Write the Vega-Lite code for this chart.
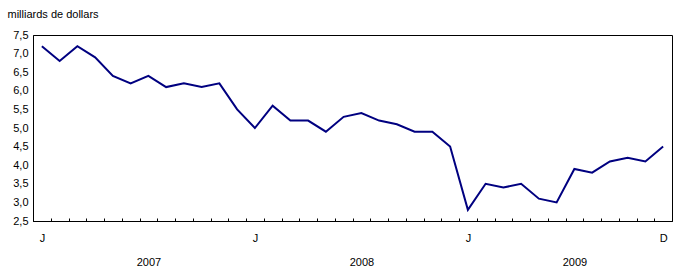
{
  "$schema": "https://vega.github.io/schema/vega-lite/v6.json",
  "width": 639,
  "height": 186,
  "autosize": {"type": "none"},
  "padding": {"left": 33, "top": 35, "right": 5, "bottom": 57},
  "background": "white",
  "config": {
    "font": "Liberation Sans",
    "view": {"stroke": "black", "strokeWidth": 1},
    "axis": {"labelFont": "Liberation Sans", "labelFontSize": 11, "labelColor": "black", "titleFont": "Liberation Sans", "titleColor": "black", "domainColor": "black", "tickColor": "black", "grid": false}
  },
  "data": {"values": [
    {"mois": "2007-01", "valeur": 7.2},
    {"mois": "2007-02", "valeur": 6.8},
    {"mois": "2007-03", "valeur": 7.2},
    {"mois": "2007-04", "valeur": 6.9},
    {"mois": "2007-05", "valeur": 6.4},
    {"mois": "2007-06", "valeur": 6.2},
    {"mois": "2007-07", "valeur": 6.4},
    {"mois": "2007-08", "valeur": 6.1},
    {"mois": "2007-09", "valeur": 6.2},
    {"mois": "2007-10", "valeur": 6.1},
    {"mois": "2007-11", "valeur": 6.2},
    {"mois": "2007-12", "valeur": 5.5},
    {"mois": "2008-01", "valeur": 5.0},
    {"mois": "2008-02", "valeur": 5.6},
    {"mois": "2008-03", "valeur": 5.2},
    {"mois": "2008-04", "valeur": 5.2},
    {"mois": "2008-05", "valeur": 4.9},
    {"mois": "2008-06", "valeur": 5.3},
    {"mois": "2008-07", "valeur": 5.4},
    {"mois": "2008-08", "valeur": 5.2},
    {"mois": "2008-09", "valeur": 5.1},
    {"mois": "2008-10", "valeur": 4.9},
    {"mois": "2008-11", "valeur": 4.9},
    {"mois": "2008-12", "valeur": 4.5},
    {"mois": "2009-01", "valeur": 2.8},
    {"mois": "2009-02", "valeur": 3.5},
    {"mois": "2009-03", "valeur": 3.4},
    {"mois": "2009-04", "valeur": 3.5},
    {"mois": "2009-05", "valeur": 3.1},
    {"mois": "2009-06", "valeur": 3.0},
    {"mois": "2009-07", "valeur": 3.9},
    {"mois": "2009-08", "valeur": 3.8},
    {"mois": "2009-09", "valeur": 4.1},
    {"mois": "2009-10", "valeur": 4.2},
    {"mois": "2009-11", "valeur": 4.1},
    {"mois": "2009-12", "valeur": 4.5}
  ]},
  "mark": {"type": "line", "color": "#000080", "strokeWidth": 2},
  "encoding": {
    "x": {
      "field": "mois",
      "type": "ordinal",
      "scale": {"type": "band", "paddingInner": 0, "paddingOuter": 0},
      "axis": {
        "title": null,
        "labelAngle": 0,
        "labelOverlap": false,
        "tickBand": "extent",
        "tickSize": -3,
        "labelPadding": 14,
        "labelLineHeight": 24,
        "labelExpr": "(datum.value=='2007-01'||datum.value=='2008-01'||datum.value=='2009-01') ? 'J' : datum.value=='2009-12' ? 'D' : datum.value=='2007-07' ? ['', '2007'] : datum.value=='2008-07' ? ['', '2008'] : datum.value=='2009-07' ? ['', '2009'] : ''"
      }
    },
    "y": {
      "field": "valeur",
      "type": "quantitative",
      "scale": {"domain": [2.5, 7.5], "nice": false, "zero": false},
      "axis": {
        "title": "milliards de dollars",
        "titleAngle": 0,
        "titleAlign": "left",
        "titleBaseline": "alphabetic",
        "titleFontSize": 11,
        "titleFontWeight": "normal",
        "titleX": -26,
        "titleY": -18,
        "values": [2.5, 3, 3.5, 4, 4.5, 5, 5.5, 6, 6.5, 7, 7.5],
        "ticks": false,
        "labelPadding": 5,
        "labelExpr": "replace(format(datum.value, '.1f'), '.', ',')"
      }
    }
  }
}
